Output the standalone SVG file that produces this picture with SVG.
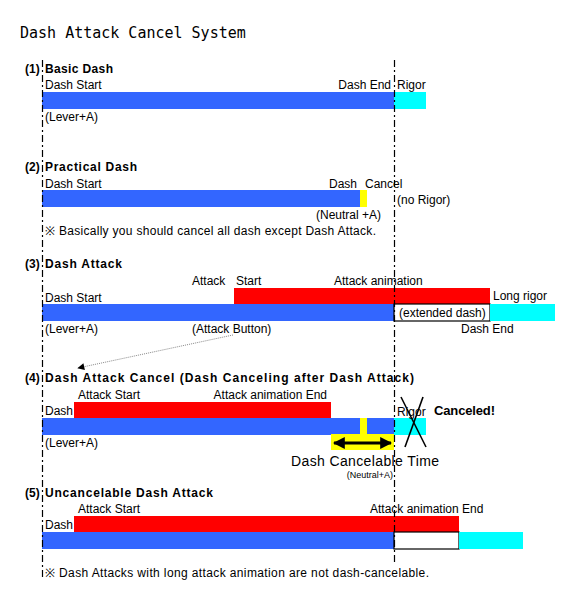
<svg xmlns="http://www.w3.org/2000/svg" width="566" height="600" viewBox="0 0 566 600">
<style>
text{font-family:"Liberation Sans",Arial,sans-serif;font-size:12px;fill:#000}
.t{font-family:"DejaVu Sans Mono","Liberation Mono",monospace;font-size:15px}
.b{font-weight:bold;font-size:12px}
.blue{fill:#3366FF}.red{fill:#FF0000}.cyan{fill:#00FFFF}.yel{fill:#FFFF00}
.box{fill:#fff;stroke:#000;stroke-width:1.2}
.guide{stroke:#000;stroke-width:1.2;stroke-dasharray:7,3,2,3;fill:none}
</style>
<defs>
<marker id="ah" viewBox="0 0 10 10" refX="9" refY="5" markerWidth="9" markerHeight="7" markerUnits="userSpaceOnUse" orient="auto"><path d="M0,0L10,5L0,10z" fill="#000"/></marker>
<marker id="dh" viewBox="0 0 10 10" refX="9" refY="5" markerWidth="4" markerHeight="4" orient="auto-start-reverse"><path d="M0,0L10,5L0,10z" fill="#000"/></marker>
</defs>
<rect width="566" height="600" fill="#fff"/>
<text class="t" x="20" y="38">Dash Attack Cancel System</text>

<g id="s1">
<rect class="blue" x="42" y="92" width="352" height="17"/>
<rect class="cyan" x="394" y="92" width="32" height="17"/>
<text class="b" x="25" y="73">(1)</text>
<text class="b" x="45" y="73" textLength="68" lengthAdjust="spacing">Basic Dash</text>
<text x="45" y="89">Dash Start</text>
<text x="391" y="89" text-anchor="end">Dash End</text>
<text x="397" y="89">Rigor</text>
<text x="45" y="121">(Lever+A)</text>
</g>

<g id="s2">
<rect class="blue" x="42" y="190" width="318" height="17"/>
<rect class="yel" x="360" y="190" width="7" height="17"/>
<text class="b" x="25" y="171">(2)</text>
<text class="b" x="45" y="171" textLength="92" lengthAdjust="spacing">Practical Dash</text>
<text x="45" y="188">Dash Start</text>
<text x="329" y="188">Dash</text>
<text x="365" y="188">Cancel</text>
<text x="397" y="204">(no Rigor)</text>
<text x="316" y="219">(Neutral +A)</text>
<text x="45" y="235" textLength="331">※ Basically you should cancel all dash except Dash Attack.</text>
</g>

<g id="s3">
<rect class="red" x="234" y="288" width="256" height="16"/>
<rect class="blue" x="42" y="304" width="352" height="17"/>
<rect class="box" x="394" y="304" width="96" height="17"/>
<rect class="cyan" x="490" y="304" width="65" height="17"/>
<text class="b" x="25" y="268">(3)</text>
<text class="b" x="45" y="268" textLength="77" lengthAdjust="spacing">Dash Attack</text>
<text x="192" y="285">Attack</text>
<text x="236" y="285">Start</text>
<text x="334" y="285">Attack animation</text>
<text x="45" y="302">Dash Start</text>
<text x="493" y="300">Long rigor</text>
<text x="399" y="317">(extended dash)</text>
<text x="45" y="333">(Lever+A)</text>
<text x="192" y="333">(Attack Button)</text>
<text x="461" y="333">Dash End</text>
</g>

<g id="s4">
<rect class="red" x="74" y="402" width="257" height="16"/>
<rect class="blue" x="42" y="418" width="352" height="17"/>
<rect class="yel" x="360" y="418" width="7" height="17"/>
<rect class="yel" x="331" y="434" width="63" height="16"/>
<rect class="cyan" x="394" y="418" width="32" height="17"/>
<line x1="334" y1="443" x2="391" y2="443" stroke="#000" stroke-width="3" marker-start="url(#dh)" marker-end="url(#dh)"/>
<text class="b" x="25" y="382">(4)</text>
<text class="b" x="45" y="382" textLength="369" lengthAdjust="spacing">Dash Attack Cancel  (Dash Canceling after Dash Attack)</text>
<text x="78" y="399">Attack Start</text>
<text x="327" y="399" text-anchor="end">Attack animation End</text>
<text x="45" y="415">Dash</text>
<text x="397" y="416">Rigor</text>
<line x1="401" y1="397" x2="426" y2="447" stroke="#000" stroke-width="1.6"/>
<line x1="423" y1="397" x2="405" y2="447" stroke="#000" stroke-width="1.6"/>
<text class="b" x="434" y="415" style="font-size:13px" textLength="61" lengthAdjust="spacing">Canceled!</text>
<text x="45" y="447">(Lever+A)</text>
<text x="291" y="466" style="font-size:14px" textLength="148" lengthAdjust="spacing">Dash Cancelable Time</text>
<text x="393" y="478" text-anchor="end" style="font-size:9px">(Neutral+A)</text>
</g>

<g id="s5">
<rect class="red" x="74" y="516" width="385" height="16"/>
<rect class="blue" x="42" y="532" width="352" height="17"/>
<rect class="box" x="394" y="532" width="65" height="17"/>
<rect class="cyan" x="459" y="532" width="64" height="17"/>
<text class="b" x="25" y="497">(5)</text>
<text class="b" x="45" y="497" textLength="168" lengthAdjust="spacing">Uncancelable Dash Attack</text>
<text x="78" y="513">Attack Start</text>
<text x="370" y="513">Attack animation End</text>
<text x="45" y="529">Dash</text>
<text x="45" y="577" textLength="384">※ Dash Attacks with long attack animation are not dash-cancelable.</text>
</g>

<g id="connectors">
<line class="guide" x1="42.5" y1="60" x2="42.5" y2="580"/>
<line class="guide" x1="394.5" y1="60" x2="394.5" y2="562"/>
<line x1="233" y1="335" x2="78" y2="368" stroke="#888" stroke-width="1" stroke-dasharray="1,1" marker-end="url(#ah)"/>
</g>
</svg>
